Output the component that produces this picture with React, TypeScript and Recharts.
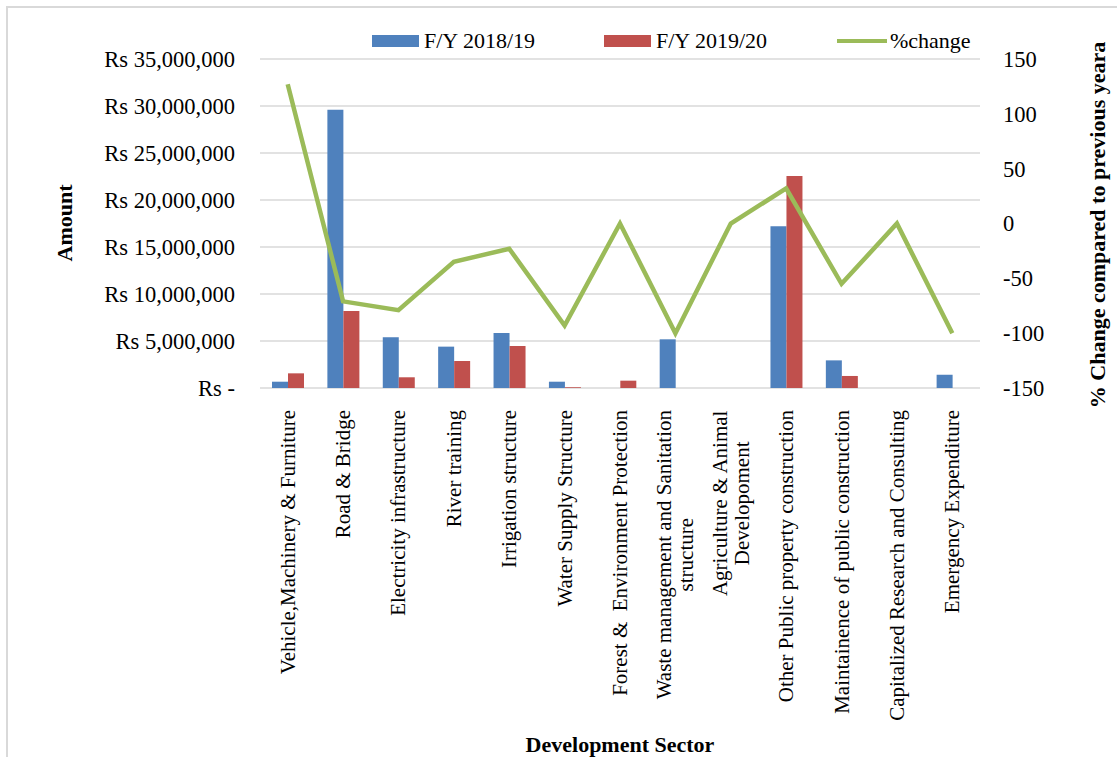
import {
  ComposedChart,
  Bar,
  Line,
  XAxis,
  YAxis,
  CartesianGrid,
} from "recharts";

const SECTORS = [
  "Vehicle,Machinery & Furniture",
  "Road & Bridge",
  "Electricity infrastructure",
  "River training",
  "Irrigation structure",
  "Water Supply Structure",
  "Forest &  Environment Protection",
  "Waste management and Sanitation\nstructure",
  "Agriculture & Animal\nDevelopoment",
  "Other Public property construction",
  "Maintainence of public construction",
  "Capitalized Research and Consulting",
  "Emergency Expenditure",
];

const FY_2018_19 = [
  670000, 29600000, 5400000, 4400000, 5850000, 670000, 0, 5180000, 0,
  17200000, 2940000, 0, 1410000,
];

const FY_2019_20 = [
  1560000, 8200000, 1140000, 2870000, 4470000, 80000, 780000, 0, 0,
  22560000, 1280000, 0, 0,
];

const PCT_CHANGE = [127, -71, -79, -35, -23, -93, 0, -100, 0, 32, -55, 0, -100];

const AMOUNT_TICKS = [0, 5000000, 10000000, 15000000, 20000000, 25000000, 30000000, 35000000];
const PCT_TICKS = [-150, -100, -50, 0, 50, 100, 150];

const BLUE = "#4F81BD";
const RED = "#C0504D";
const GREEN = "#9BBB59";
const FONT = '"Liberation Serif", "Times New Roman", serif';
const TICK_SIZE = 22.5;
const LABEL_SIZE = 21;

const data = SECTORS.map((sector, i) => ({
  sector,
  fy1: FY_2018_19[i],
  fy2: FY_2019_20[i],
  pct: PCT_CHANGE[i],
}));

const canvas = typeof document !== "undefined" ? document.createElement("canvas") : null;
const ctx = canvas ? canvas.getContext("2d") : null;

function textWidth(s: string) {
  if (!ctx) return s.length * LABEL_SIZE * 0.45;
  ctx.font = `${LABEL_SIZE}px "Liberation Serif"`;
  return ctx.measureText(s).width;
}

function SectorTick(props: any) {
  const { x, y, payload } = props;
  const lines: string[] = String(payload.value).split("\n");
  const widest = Math.max(...lines.map(textWidth));
  const cy = y + widest / 2;
  return (
    <g>
      {lines.map((ln, i) => {
        const lx = x + (i - (lines.length - 1) / 2) * 22;
        return (
          <text
            key={i}
            x={lx}
            y={cy}
            transform={`rotate(-90 ${lx} ${cy})`}
            textAnchor="middle"
            dominantBaseline="central"
            fontSize={LABEL_SIZE}
            fontFamily={FONT}
            fill="#000"
            style={{ whiteSpace: "pre" }}
          >
            {ln}
          </text>
        );
      })}
    </g>
  );
}

const fmtAmount = (v: number) => (v === 0 ? "Rs -" : `Rs ${v.toLocaleString("en-US")}`);

function LegendItem({ left, color, label, line }: { left: number; color: string; label: string; line?: boolean }) {
  return (
    <div style={{ position: "absolute", left, top: 28, display: "flex", alignItems: "center", height: 26 }}>
      <div
        style={{
          width: line ? 50 : 47,
          height: line ? 4.5 : 12,
          background: color,
          marginRight: line ? 3 : 5,
        }}
      />
      <span style={{ fontSize: 22, fontFamily: FONT, color: "#000" }}>{label}</span>
    </div>
  );
}

export default function App() {
  return (
    <div
      style={{
        position: "absolute",
        left: 0,
        top: 0,
        width: 1117,
        height: 757,
        overflow: "hidden",
        background: "#fff",
        fontFamily: FONT,
      }}
    >
      <div
        style={{
          position: "absolute",
          left: 6,
          top: 6,
          width: 1200,
          height: 800,
          borderLeft: "2px solid #D9D9D9",
          borderTop: "2px solid #D9D9D9",
        }}
      />
      <div style={{ position: "absolute", left: 0, top: 0 }}>
        <ComposedChart
          width={1117}
          height={757}
          data={data}
          margin={{ top: 59, right: 0, bottom: 0, left: 0 }}
          barGap={0}
        >
          <CartesianGrid yAxisId="amt" vertical={false} stroke="#D9D9D9" strokeWidth={1.5} />
          <XAxis
            dataKey="sector"
            interval={0}
            axisLine={false}
            tickLine={false}
            tickSize={0}
            tickMargin={22}
            height={369}
            tick={<SectorTick />}
          />
          <YAxis
            yAxisId="amt"
            orientation="left"
            width={260}
            domain={[0, 35000000]}
            ticks={AMOUNT_TICKS}
            axisLine={false}
            tickLine={false}
            tickSize={0}
            tickMargin={25}
            tickFormatter={fmtAmount}
            tick={{ fontSize: TICK_SIZE, fontFamily: FONT, fill: "#000" }}
          />
          <YAxis
            yAxisId="pct"
            orientation="right"
            width={137}
            domain={[-150, 150]}
            ticks={PCT_TICKS}
            axisLine={false}
            tickLine={false}
            tickSize={0}
            tickMargin={23}
            tick={{ fontSize: TICK_SIZE, fontFamily: FONT, fill: "#000" }}
          />
          <Bar yAxisId="amt" dataKey="fy1" name="F/Y 2018/19" fill={BLUE} barSize={16} isAnimationActive={false} />
          <Bar yAxisId="amt" dataKey="fy2" name="F/Y 2019/20" fill={RED} barSize={16} isAnimationActive={false} />
          <Line
            yAxisId="pct"
            type="linear"
            dataKey="pct"
            name="%change"
            stroke={GREEN}
            strokeWidth={4.5}
            dot={false}
            activeDot={false}
            isAnimationActive={false}
          />
        </ComposedChart>
      </div>
      <LegendItem left={372} color={BLUE} label="F/Y 2018/19" />
      <LegendItem left={604} color={RED} label="F/Y 2019/20" />
      <LegendItem left={837} color={GREEN} label="%change" line />
      <div
        style={{
          position: "absolute",
          left: 65,
          top: 223,
          transform: "translate(-50%, -50%) rotate(-90deg)",
          fontSize: 22,
          fontWeight: "bold",
          whiteSpace: "nowrap",
        }}
      >
        Amount
      </div>
      <div
        style={{
          position: "absolute",
          left: 1098,
          top: 225,
          transform: "translate(-50%, -50%) rotate(-90deg)",
          fontSize: 22,
          fontWeight: "bold",
          whiteSpace: "nowrap",
        }}
      >
        % Change compared to previous yeara
      </div>
      <div
        style={{
          position: "absolute",
          left: 620,
          top: 745,
          transform: "translate(-50%, -50%)",
          fontSize: 22,
          fontWeight: "bold",
          whiteSpace: "nowrap",
        }}
      >
        Development Sector
      </div>
    </div>
  );
}
